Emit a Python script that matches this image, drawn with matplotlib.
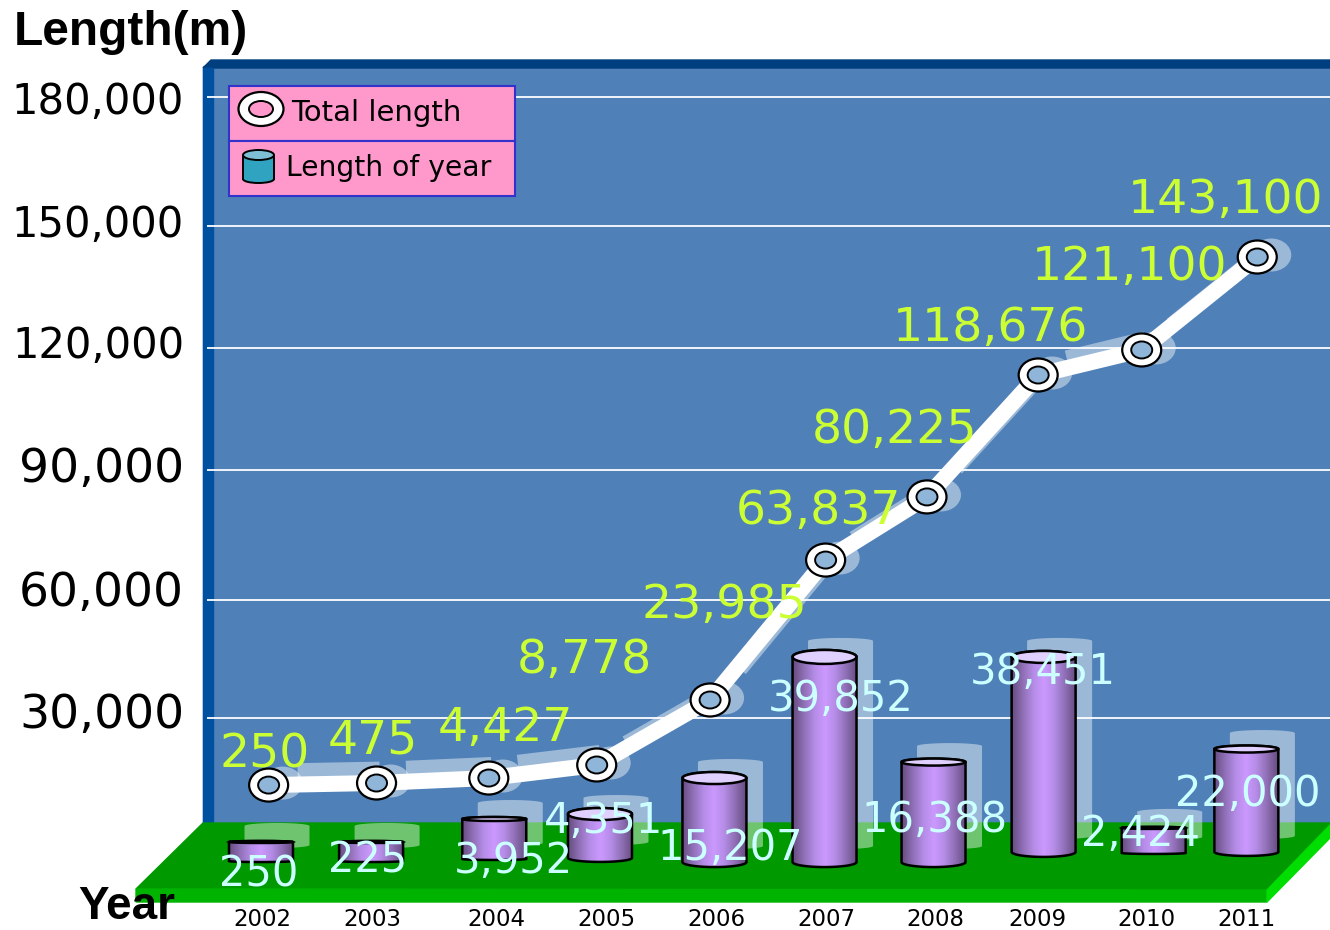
import numpy as np
import matplotlib
matplotlib.use('Agg')
import matplotlib.pyplot as plt
from matplotlib.colors import LinearSegmentedColormap
from matplotlib.patches import Ellipse, PathPatch, Polygon, Rectangle
from matplotlib.path import Path
from matplotlib.transforms import Affine2D

# values (the drawn marks do not follow their own labels)
years = ['2002', '2003', '2004', '2005', '2006', '2007', '2008', '2009', '2010', '2011']
tick_x = [2002.01, 2003.02, 2004.16, 2005.17, 2006.18, 2007.19, 2008.19, 2009.12, 2010.12, 2011.04]

total_x = [2002.07, 2003.06, 2004.09, 2005.08, 2006.12, 2007.18, 2008.11, 2009.13, 2010.08, 2011.14]
total_y = [13800, 14300, 15500, 18650, 34350, 68150, 83400, 112850, 118900, 141350]
total_labels = ['250', '475', '4,427', '8,778', '23,985', '63,837', '80,225', '118,676', '121,100', '143,100']

bar_x = [2002.00, 2003.01, 2004.14, 2005.11, 2006.16, 2007.17, 2008.17, 2009.18, 2010.19, 2011.04]
bar_top = [50, 50, 5600, 6800, 15500, 44750, 19350, 44750, 3450, 22500]
bar_bottom = [-4550, -4550, -4050, -3800, -4800, -4800, -4800, -2350, -2600, -2350]
bar_labels = ['250', '225', '3,952', '4,351', '15,207', '39,852', '16,388', '38,451', '2,424', '22,000']

grid_levels = [30000, 58500, 89900, 119400, 148850, 180000]
tick_pos = [31930, 61380, 91130, 120830, 150280, 179780]
tick_labels = ['30,000', '60,000', '90,000', '120,000', '150,000', '180,000']

# layout, in pixels
total_off = [(-4, 30), (-4, 42), (17, 50), (-12, 104), (14, 94), (-7, 49), (-32, 66), (-48, 47), (-12, 82), (-32, 57)]
bar_off = [(-2, -33), (-3, -19), (19, -42), (4, -7), (16, -70), (16, -42), (1, -58), (-1, -15), (-13, -6), (1, -45)]
cap_top = [2, 2, 4, 12, 12, 14, 7, 12, 2, 7]
cap_bottom = [2, 2, 2, 8, 10, 10, 10, 10, 2, 8]

PX_YEAR = 109.0
PX_M = 241.55
WIDTH = 1330
HEIGHT = 930

BLUE = '#4f81b8'
LIME = '#ccff33'
PALE = '#ccffff'
plt.rcParams['font.family'] = ['DejaVu Sans']


def year_at(px):
    return 2002 + (px - 260) / PX_YEAR


def metres_at(py):
    return 30000 + (718 - py) * PX_M


def cylinder(x, top, bottom, h_top, h_bottom, w=64):
    # outline of a cylinder, in data units
    half = w / 2 / PX_YEAR
    t = np.linspace(0, np.pi, 40)
    up_x = x + half * np.cos(t)
    up_y = top + h_top / 2 * PX_M * np.sin(t)
    low_x = x - half * np.cos(t)
    low_y = bottom - h_bottom / 2 * PX_M * np.sin(t)
    pts = np.column_stack([np.r_[up_x, low_x, up_x[0]], np.r_[up_y, low_y, up_y[0]]])
    return Path(pts, closed=True)


fig = plt.figure(figsize=(WIDTH / 100, HEIGHT / 100), dpi=100)
ax = fig.add_axes([205 / WIDTH, (HEIGHT - 902) / HEIGHT, (WIDTH - 205) / WIDTH, (902 - 60) / HEIGHT])
ax.patch.set_visible(False)
for s in ax.spines.values():
    s.set_visible(False)

# picture pixels, y going down
pixel = Affine2D().scale(1, -1).translate(0, HEIGHT)

# wall
fig.add_artist(Rectangle((203, 66), 1127, 760, color=BLUE, transform=pixel, zorder=0))
fig.add_artist(Polygon([(203, 68), (211, 60), (1330, 60), (1330, 68)], color='#003f7f', transform=pixel, zorder=0))
fig.add_artist(Polygon([(203, 68), (213, 68), (213, 826), (203, 826)], color='#0050a0', transform=pixel, zorder=0))

# floor
fig.add_artist(Polygon([(203, 823), (1330, 823), (1330, 825), (1267, 890), (136, 889)], color='#009900',
                       transform=pixel, zorder=0))
fig.add_artist(Polygon([(136, 889), (1267, 890), (1267, 902), (136, 902)], color='#00b300', transform=pixel, zorder=0))
fig.add_artist(Polygon([(1267, 890), (1330, 825), (1330, 838), (1267, 902)], color='#00dd00', transform=pixel, zorder=0))

ax.hlines(grid_levels, year_at(206), year_at(WIDTH), color='white', lw=1.3, zorder=1)

# bar shadows
shift = ax.transData + Affine2D().translate(16, 16)
for i in range(len(bar_x)):
    p = cylinder(bar_x[i], bar_top[i], bar_bottom[i], 6, 6, w=65)
    ax.add_patch(PathPatch(p, fc='white', ec='none', alpha=0.44, transform=shift, zorder=2, clip_on=False))

# line shadow, one piece per segment
shift_line = ax.transData + Affine2D().translate(16, 14)
for i in range(len(total_x) - 1):
    x0, x1 = total_x[i], total_x[i + 1]
    y0, y1 = total_y[i], total_y[i + 1]
    ax.plot([x0 + 0.12 * (x1 - x0), x0 + 0.88 * (x1 - x0)], [y0 + 0.12 * (y1 - y0), y0 + 0.88 * (y1 - y0)],
            color='white', alpha=0.44, lw=11, solid_capstyle='butt', transform=shift_line, zorder=2)
shift_mark = ax.transData + Affine2D().translate(14, 2)
for x, y in zip(total_x, total_y):
    ax.add_patch(Ellipse((x, y), 40 / PX_YEAR, 33 * PX_M, fc='white', ec='none', alpha=0.44,
                         transform=shift_mark, zorder=2))

# cylinders
body = LinearSegmentedColormap.from_list('body', ['#664d80', '#8f6fb5', '#b48ce6', '#cc99ff', '#b48ce6', '#8f6fb5', '#664d80'])
grad = np.linspace(0, 1, 128).reshape(1, -1)
for i in range(len(bar_x)):
    half = 32 / PX_YEAR
    p = PathPatch(cylinder(bar_x[i], bar_top[i], bar_bottom[i], cap_top[i], cap_bottom[i]),
                  fc='none', ec='black', lw=1.8, zorder=4)
    ax.add_patch(p)
    im = ax.imshow(grad, cmap=body, aspect='auto', zorder=3,
                   extent=(bar_x[i] - half, bar_x[i] + half, bar_bottom[i] - cap_bottom[i] * PX_M, bar_top[i] + cap_top[i] * PX_M))
    im.set_clip_path(PathPatch(p.get_path(), transform=ax.transData))
    ax.add_patch(Ellipse((bar_x[i], bar_top[i]), 64 / PX_YEAR, cap_top[i] * PX_M, fc='#dfd0ff', ec='black',
                         lw=1.8, zorder=5))

# total length line and its rings
ax.plot(total_x, total_y, color='white', lw=11.5, solid_joinstyle='miter', zorder=6)
for x, y in zip(total_x, total_y):
    ax.add_patch(Ellipse((x, y), 39 / PX_YEAR, 33 * PX_M, fc='white', ec='black', lw=1.6, zorder=7))
    ax.add_patch(Ellipse((x, y), 21 / PX_YEAR, 17 * PX_M, fc='#8fb6d9', ec='black', lw=1.4, zorder=8))

# value labels
for i, s in enumerate(total_labels):
    ax.annotate(s, (total_x[i], total_y[i]), xytext=total_off[i], textcoords='offset pixels', color=LIME,
                fontsize=34, ha='center', va='center', zorder=10, annotation_clip=False)
for i, s in enumerate(bar_labels):
    ax.annotate(s, (bar_x[i], bar_top[i]), xytext=bar_off[i], textcoords='offset pixels', color=PALE,
                fontsize=30, ha='center', va='center', zorder=10, annotation_clip=False)

# axes limits follow the picture pixels, marks sit one pixel right of the frame
ax.set_xlim(year_at(204), year_at(WIDTH - 1))
ax.set_ylim(metres_at(902), metres_at(60))
ax.set_yticks(tick_pos)
ax.set_yticklabels(tick_labels)
for t, s in zip(ax.get_yticklabels(), tick_labels):
    # the five digit labels are set larger in the reference
    t.set_fontsize(34 if len(s) == 6 else 30)
ax.set_xticks(tick_x)
ax.set_xticklabels(years, fontsize=16.5)
ax.tick_params(axis='both', length=0)
ax.tick_params(axis='y', pad=15)
ax.tick_params(axis='x', pad=4)

# legend
for top in (86, 141):
    fig.add_artist(Rectangle((229, top), 286, 55, fc='#ff99cc', ec='#3333cc', lw=1.5, transform=pixel, zorder=11))
fig.add_artist(Ellipse((261, 109), 45, 34, fc='white', ec='black', lw=1.6, transform=pixel, zorder=12))
fig.add_artist(Ellipse((261, 109), 24, 16, fc='#ff99cc', ec='black', lw=1.4, transform=pixel, zorder=13))
fig.add_artist(Rectangle((243, 156), 31, 23, fc='#2fa3c0', ec='black', lw=1.4, transform=pixel, zorder=12))
fig.add_artist(Ellipse((258.5, 179), 31, 8, fc='#2fa3c0', ec='black', lw=1.4, transform=pixel, zorder=12))
fig.add_artist(Rectangle((244, 170), 29, 9, fc='#2fa3c0', ec='none', transform=pixel, zorder=12))
fig.add_artist(Ellipse((258.5, 155), 31, 10, fc='#7fbfd5', ec='black', lw=1.4, transform=pixel, zorder=13))
fig.text(291, 113, 'Total length', fontsize=21, va='center', transform=pixel, zorder=14)
fig.text(286, 168, 'Length of year', fontsize=20.3, va='center', transform=pixel, zorder=14)

# axis titles
fig.text(14, 32, 'Length(m)', family='Liberation Sans', weight='bold', fontsize=34.5, va='center', transform=pixel)
fig.text(78, 907, 'Year', family='Liberation Sans', weight='bold', fontsize=33, va='center', transform=pixel, zorder=14)

fig.savefig('out.png', dpi=100)
